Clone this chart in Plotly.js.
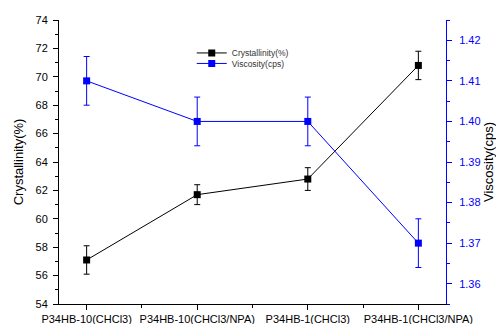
<!DOCTYPE html>
<html><head><meta charset="utf-8">
<script src="https://cdn.plot.ly/plotly-3.0.1.min.js"></script>
<style>body{margin:0;padding:0;background:#fff}#chart{width:496px;height:324px}</style>
</head><body><div id="chart"></div>
<script>
const categories = ["P34HB-10(CHCl3)", "P34HB-10(CHCl3/NPA)", "P34HB-1(CHCl3)", "P34HB-1(CHCl3/NPA)"];
const crystallinity = [57.1, 61.7, 62.8, 70.8];
const crystallinityErr = [1.0, 0.7, 0.8, 1.0];
const viscosity = [1.410, 1.400, 1.400, 1.370];
const viscosityErr = [0.006, 0.006, 0.006, 0.006];
const xpos = categories.map((_, i) => i);

const traces = [
  {x: xpos, y: crystallinity, name: "Crystallinity(%)", type: "scatter", mode: "lines+markers",
   line: {color: "#000", width: 1}, marker: {symbol: "square", size: 7, color: "#000"},
   error_y: {type: "data", array: crystallinityErr, visible: true, color: "#000", thickness: 1, width: 3},
   xaxis: "x", yaxis: "y", legend: "legend"},
  {x: xpos, y: viscosity, name: "Viscosity(cps)", type: "scatter", mode: "lines+markers",
   line: {color: "#0000ff", width: 1}, marker: {symbol: "square", size: 7, color: "#0000ff"},
   error_y: {type: "data", array: viscosityErr, visible: true, color: "#0000ff", thickness: 1, width: 3},
   xaxis: "x", yaxis: "y2", legend: "legend2"}
];

const font = "Liberation Sans, Arial, sans-serif";
const legendBase = {xanchor: "left", yanchor: "middle", bgcolor: "rgba(0,0,0,0)",
                    font: {size: 8.5, color: "#333"}, itemwidth: 30};
const layout = {
  width: 496, height: 324,
  margin: {l: 59, r: 50, t: 20, b: 20},
  paper_bgcolor: "#fff", plot_bgcolor: "#fff",
  font: {family: font, size: 11, color: "#000"},
  showlegend: true,
  legend: Object.assign({x: 0.343, y: 0.884}, legendBase),
  legend2: Object.assign({x: 0.343, y: 0.847}, legendBase),
  xaxis: {range: [-0.25, 3.25], tickmode: "array", tickvals: xpos, ticktext: categories,
          showgrid: false, zeroline: false, showline: true, linecolor: "#000", linewidth: 1,
          ticks: "outside", ticklen: 5, tickcolor: "#000", tickfont: {size: 11},
          minor: {tickmode: "array", tickvals: [0.5, 1.5, 2.5], ticks: "outside", ticklen: 3, tickcolor: "#000"}},
  xaxis2: {overlaying: "x", side: "top", range: [-0.25, 3.25], tickmode: "array", tickvals: xpos,
           showticklabels: false, showgrid: false, zeroline: false, showline: true, linecolor: "#555",
           linewidth: 1, ticks: "inside", ticklen: 5, tickcolor: "#000",
           minor: {tickmode: "array", tickvals: [0.5, 1.5, 2.5], ticks: "inside", ticklen: 3, tickcolor: "#000"}},
  yaxis: {range: [54, 74], dtick: 2, tick0: 54, showgrid: false, zeroline: false, showline: true,
          linecolor: "#000", linewidth: 1, ticks: "outside", ticklen: 5, tickcolor: "#000",
          ticklabelstandoff: 3,
          minor: {dtick: 1, ticks: "outside", ticklen: 3, tickcolor: "#000"},
          title: {text: "Crystallinity(%)", font: {size: 13}, standoff: 8}},
  yaxis2: {overlaying: "y", side: "right", range: [1.355, 1.425], dtick: 0.01, tick0: 1.36,
           tickformat: ".2f", showgrid: false, zeroline: false, showline: true, linecolor: "#0000ff",
           linewidth: 1, ticks: "outside", ticklen: 5, tickcolor: "#0000ff",
           ticklabelstandoff: 5,
           tickfont: {color: "#0000ff", size: 11},
           minor: {dtick: 0.005, ticks: "outside", ticklen: 3, tickcolor: "#0000ff"},
           title: {text: "Viscosity(cps)", font: {size: 13, color: "#000"}, standoff: 2}}
};
Plotly.newPlot("chart", traces, layout, {displayModeBar: false, staticPlot: true});
</script></body></html>
